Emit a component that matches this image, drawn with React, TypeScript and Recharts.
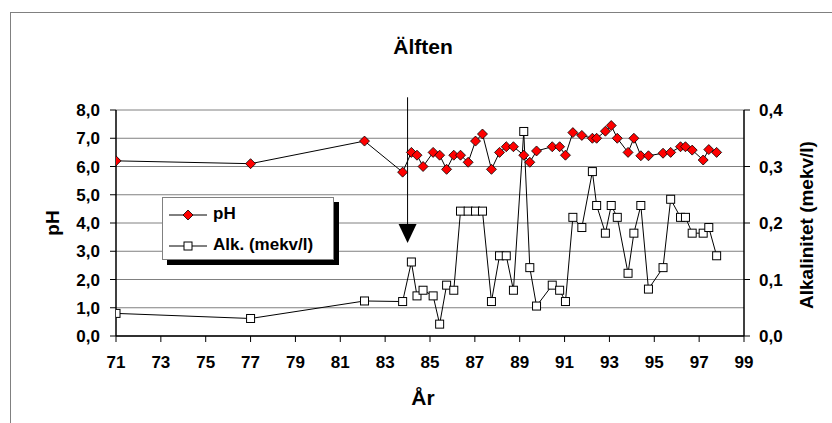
import React from 'react';
import {
  ComposedChart, Line, XAxis, YAxis, CartesianGrid, Legend, ReferenceLine, ReferenceDot,
} from 'recharts';

// sampling dates (year, 19xx) and measured values
const years = [
  71.0, 77.0, 82.08, 83.78, 84.17, 84.42, 84.69, 85.14, 85.43, 85.74,
  86.06, 86.36, 86.7, 87.03, 87.34, 87.74, 88.1, 88.4, 88.72, 89.18,
  89.45, 89.75, 90.45, 90.78, 91.04, 91.37, 91.77, 92.24, 92.43, 92.82,
  93.08, 93.35, 93.83, 94.09, 94.4, 94.74, 95.39, 95.73, 96.17, 96.39,
  96.69, 97.18, 97.43, 97.78,
];
const phValues = [
  6.2, 6.1, 6.9, 5.8, 6.5, 6.4, 6.0, 6.5, 6.4, 5.9,
  6.4, 6.4, 6.15, 6.9, 7.15, 5.9, 6.5, 6.7, 6.7, 6.4,
  6.15, 6.55, 6.7, 6.7, 6.4, 7.2, 7.1, 7.0, 7.0, 7.25,
  7.45, 7.0, 6.5, 7.0, 6.38, 6.38, 6.47, 6.5, 6.7, 6.7,
  6.58, 6.23, 6.6, 6.5,
];
const alkValues = [
  0.04, 0.031, 0.062, 0.061, 0.131, 0.071, 0.081, 0.071, 0.021, 0.09,
  0.081, 0.221, 0.221, 0.221, 0.221, 0.061, 0.142, 0.142, 0.081, 0.362,
  0.121, 0.053, 0.09, 0.081, 0.061, 0.21, 0.192, 0.291, 0.231, 0.182,
  0.231, 0.21, 0.111, 0.182, 0.231, 0.083, 0.121, 0.242, 0.21, 0.21,
  0.182, 0.182, 0.192, 0.142,
];
const xTicks = [71, 73, 75, 77, 79, 81, 83, 85, 87, 89, 91, 93, 95, 97, 99];
const phTicks = [0, 1, 2, 3, 4, 5, 6, 7, 8];
const alkTicks = [0, 0.1, 0.2, 0.3, 0.4];

// marker year (vertical arrow)
const markerYear = 84;

const data = years.map((y, i) => ({ year: y, ph: phValues[i], alk: alkValues[i] }));

const FONT = '"Liberation Sans", Arial, sans-serif';
const comma = (v: number) => v.toFixed(1).replace('.', ',');

const Diamond = (props: any) => {
  const { cx, cy } = props;
  if (cx == null || cy == null) return null;
  const r = 5;
  return (
    <polygon
      points={`${cx},${cy - r} ${cx + r},${cy} ${cx},${cy + r} ${cx - r},${cy}`}
      fill="#ff0000"
      stroke="#000"
      strokeWidth={0.8}
    />
  );
};

const Square = (props: any) => {
  const { cx, cy } = props;
  if (cx == null || cy == null) return null;
  const s = 8;
  return <rect x={cx - s / 2} y={cy - s / 2} width={s} height={s} fill="#fff" stroke="#000" strokeWidth={1} />;
};

const Arrow = (props: any) => {
  const { cx, cy } = props;
  return <polygon points={`${cx - 9},${cy - 9.5} ${cx + 9},${cy - 9.5} ${cx},${cy + 9.5}`} fill="#000" />;
};

const LegendBox = () => (
  <div style={{ position: 'relative', width: 172, height: 63 }}>
    <div style={{ position: 'absolute', left: 5, top: 5, width: 172, height: 63, background: '#000' }} />
    <div
      style={{
        position: 'absolute', left: 0, top: 0, width: 170, height: 61, background: '#fff',
        border: '1px solid #808080', fontFamily: FONT, fontWeight: 'bold', fontSize: 17, color: '#000',
      }}
    >
      <svg width={45} height={61} style={{ position: 'absolute', left: 4, top: 0 }}>
        <line x1={2} y1={17} x2={40} y2={17} stroke="#000" />
        <Diamond cx={21} cy={17} />
        <line x1={2} y1={48} x2={40} y2={48} stroke="#000" />
        <Square cx={21} cy={48} />
      </svg>
      <div style={{ position: 'absolute', left: 50, top: 6 }}>pH</div>
      <div style={{ position: 'absolute', left: 50, top: 37 }}>Alk. (mekv/l)</div>
    </div>
  </div>
);

const tickStyle = { fill: '#000', fontSize: 17, fontWeight: 'bold', fontFamily: FONT };

export default function App() {
  return (
    <div style={{ position: 'absolute', left: 0, top: 0, width: 832, height: 423, overflow: 'hidden', background: '#fff' }}>
      <div
        style={{
          position: 'absolute', left: 10, top: 12, width: 900, height: 500,
          borderLeft: '1px solid #808080', borderTop: '1px solid #808080',
        }}
      />
      <div
        style={{
          position: 'absolute', left: 423, top: 47, transform: 'translate(-50%, -50%)',
          fontFamily: FONT, fontWeight: 'bold', fontSize: 21, whiteSpace: 'nowrap',
        }}
      >
        Älften
      </div>
      <ComposedChart
        width={832}
        height={423}
        data={data}
        margin={{ top: 110, right: 28, left: 56, bottom: 57 }}
        style={{ position: 'absolute', left: 0, top: 0 }}
      >
        <CartesianGrid yAxisId="left" vertical={false} stroke="#808080" strokeWidth={1} />
        <XAxis
          dataKey="year"
          type="number"
          domain={[71, 99]}
          ticks={xTicks}
          interval={0}
          height={30}
          tick={tickStyle}
          tickLine={{ stroke: '#000' }}
          axisLine={{ stroke: '#000', strokeWidth: 1.5 }}
          tickSize={6}
          tickMargin={14}
          allowDataOverflow
        />
        <YAxis
          yAxisId="left"
          domain={[0, 8]}
          ticks={phTicks}
          interval={0}
          width={60}
          tick={tickStyle}
          tickFormatter={comma}
          tickLine={{ stroke: '#000' }}
          axisLine={{ stroke: '#000', strokeWidth: 1.5 }}
          tickSize={6}
          tickMargin={10}
        />
        <YAxis
          yAxisId="right"
          orientation="right"
          domain={[0, 0.4]}
          ticks={alkTicks}
          interval={0}
          width={60}
          tick={tickStyle}
          tickFormatter={comma}
          tickLine={{ stroke: '#000' }}
          axisLine={{ stroke: '#000', strokeWidth: 1.5 }}
          tickSize={6}
          tickMargin={9}
        />
        <Legend
          layout="vertical"
          align="center"
          verticalAlign="middle"
          content={<LegendBox />}
          wrapperStyle={{ left: 162, top: 197, width: 180, height: 70 }}
        />
        <ReferenceLine
          yAxisId="left"
          segment={[{ x: markerYear, y: 8.45 }, { x: markerYear, y: 3.9 }]}
          stroke="#000"
          strokeWidth={1}
          ifOverflow="visible"
        />
        <ReferenceDot yAxisId="left" x={markerYear} y={3.63} shape={<Arrow />} ifOverflow="visible" />
        <Line
          yAxisId="left"
          dataKey="ph"
          name="pH"
          stroke="#000"
          strokeWidth={1}
          dot={<Diamond />}
          activeDot={false}
          isAnimationActive={false}
        />
        <Line
          yAxisId="right"
          dataKey="alk"
          name="Alk. (mekv/l)"
          stroke="#000"
          strokeWidth={1}
          dot={<Square />}
          activeDot={false}
          isAnimationActive={false}
        />
      </ComposedChart>
      <div
        style={{
          position: 'absolute', left: 53, top: 223, transform: 'translate(-50%, -50%) rotate(-90deg)',
          fontFamily: FONT, fontWeight: 'bold', fontSize: 19, whiteSpace: 'nowrap',
        }}
      >
        pH
      </div>
      <div
        style={{
          position: 'absolute', left: 807, top: 225, transform: 'translate(-50%, -50%) rotate(-90deg)',
          fontFamily: FONT, fontWeight: 'bold', fontSize: 19, whiteSpace: 'nowrap',
        }}
      >
        Alkalinitet (mekv/l)
      </div>
      <div
        style={{
          position: 'absolute', left: 423, top: 398, transform: 'translate(-50%, -50%)',
          fontFamily: FONT, fontWeight: 'bold', fontSize: 21, whiteSpace: 'nowrap',
        }}
      >
        År
      </div>
    </div>
  );
}
